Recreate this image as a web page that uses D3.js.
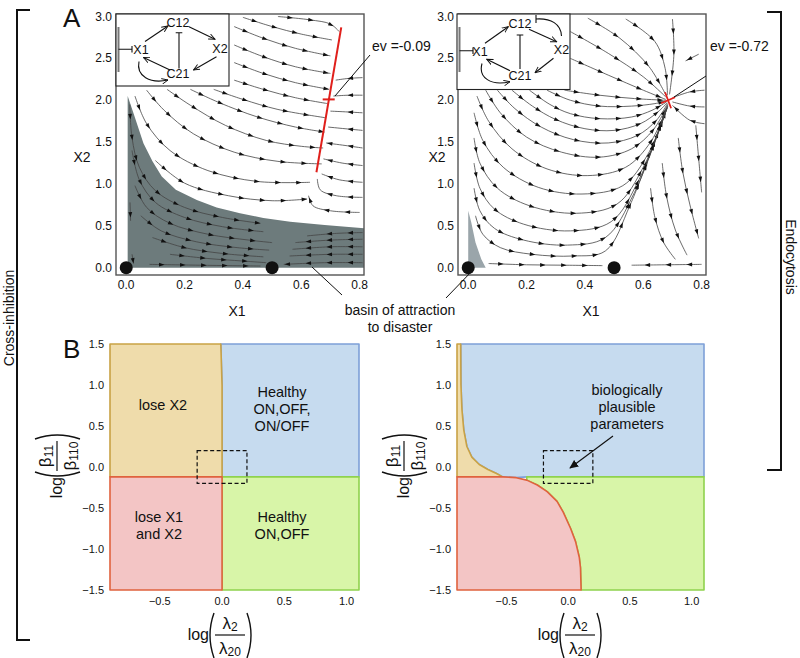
<!DOCTYPE html>
<html><head><meta charset="utf-8">
<script src="https://cdn.jsdelivr.net/npm/d3@7"></script>
<style>body{margin:0;background:#fff}svg{display:block}text{font-family:"Liberation Sans",Arial,sans-serif;fill:#111}</style>
</head><body><svg id="c" width="800" height="658"></svg>
<script>
// ================= DATA =================
const phaseXTicks = [0.0, 0.2, 0.4, 0.6, 0.8];
const phaseYTicks = [0.0, 0.5, 1.0, 1.5, 2.0, 2.5, 3.0];
const diagXTicks = [-0.5, 0.0, 0.5, 1.0];
const diagYTicks = [-1.5, -1.0, -0.5, 0.0, 0.5, 1.0, 1.5];
const fixedPoints = [[0, 0], [0.5, 0]];

// basin of attraction to disaster (grey)
const basinCross = [[0.005,0],[0.005,2.05],[0.025,1.845],[0.059,1.487],[0.09,1.27],[0.122,1.088],[0.17,0.93],[0.242,0.809],[0.31,0.72],[0.39,0.65],[0.47,0.595],[0.562,0.55],[0.68,0.51],[0.815,0.47],[0.815,0]];
const basinEndo = [[0.0,0],[0.0,0.68],[0.01,0.55],[0.025,0.3],[0.045,0.1],[0.06,0]];

// eigen-value markers
const evLineCross = [[0.737, 2.87], [0.652, 1.14]];
const evPointCross = [0.694, 2.01];
const evPointEndo = [0.685, 2.0];

// streamlines, cross-inhibition (points in flow order)
const streamsCross = [
 [[0.40,2.99],[0.50,2.88],[0.60,2.79],[0.705,2.72]],
 [[0.52,3.0],[0.63,2.96],[0.70,2.91],[0.73,2.82]],
 [[0.37,2.88],[0.47,2.74],[0.58,2.62],[0.70,2.53]],
 [[0.37,2.66],[0.47,2.52],[0.58,2.40],[0.70,2.32]],
 [[0.37,2.45],[0.47,2.32],[0.58,2.21],[0.695,2.13]],
 [[0.37,2.24],[0.47,2.13],[0.58,2.03],[0.69,1.96]],
 [[0.30,2.13],[0.40,2.01],[0.52,1.89],[0.685,1.79]],
 [[0.22,2.13],[0.32,1.97],[0.45,1.80],[0.58,1.68],[0.68,1.62]],
 [[0.14,2.13],[0.22,1.94],[0.34,1.70],[0.48,1.52],[0.60,1.45],[0.675,1.43]],
 [[0.07,2.12],[0.13,1.88],[0.23,1.60],[0.37,1.38],[0.52,1.27],[0.67,1.24]],
 [[0.03,2.05],[0.07,1.72],[0.15,1.40],[0.28,1.16],[0.45,1.03],[0.63,1.02]],
 [[0.10,1.28],[0.20,1.01],[0.35,0.86],[0.50,0.80],[0.62,0.82]],
 [[0.81,2.27],[0.76,2.26],[0.718,2.24]],
 [[0.81,2.06],[0.76,2.06],[0.71,2.05]],
 [[0.81,1.85],[0.76,1.86],[0.70,1.87]],
 [[0.81,1.64],[0.75,1.66],[0.692,1.68]],
 [[0.81,1.43],[0.75,1.46],[0.685,1.49]],
 [[0.81,1.22],[0.74,1.25],[0.676,1.30]],
 [[0.81,1.02],[0.73,1.05],[0.67,1.12]],
 [[0.81,0.84],[0.72,0.86],[0.665,0.93],[0.655,1.06]],
 [[0.80,0.66],[0.70,0.68],[0.64,0.74],[0.625,0.86]],
 [[0.012,1.95],[0.02,1.55],[0.045,1.20],[0.10,0.92],[0.20,0.72],[0.33,0.60],[0.46,0.53]],
 [[0.02,1.40],[0.045,1.05],[0.10,0.78],[0.20,0.60],[0.33,0.49],[0.47,0.43]],
 [[0.03,0.98],[0.07,0.72],[0.15,0.53],[0.28,0.40],[0.42,0.33],[0.50,0.30]],
 [[0.05,0.62],[0.12,0.44],[0.24,0.31],[0.38,0.24],[0.49,0.21]],
 [[0.09,0.36],[0.20,0.24],[0.33,0.17],[0.47,0.13]],
 [[0.15,0.16],[0.28,0.11],[0.40,0.08],[0.48,0.06]],
 [[0.08,0.04],[0.25,0.03],[0.46,0.02]],
 [[0.013,0.78],[0.015,0.56]],
 [[0.02,0.16],[0.025,0.05]],
 [[0.81,0.42],[0.72,0.41],[0.62,0.38]],
 [[0.81,0.34],[0.70,0.33],[0.58,0.30]],
 [[0.81,0.25],[0.70,0.25],[0.57,0.22]],
 [[0.81,0.16],[0.70,0.16],[0.56,0.14]],
 [[0.81,0.06],[0.68,0.06],[0.54,0.04]]
];

// streamlines, endocytosis
const streamsEndo = [
 [[0.41,2.98],[0.52,2.74],[0.62,2.40],[0.678,2.06]],
 [[0.54,2.97],[0.64,2.70],[0.675,2.38],[0.683,2.06]],
 [[0.70,2.97],[0.705,2.55],[0.69,2.07]],
 [[0.35,2.82],[0.48,2.56],[0.60,2.28],[0.677,2.04]],
 [[0.35,2.50],[0.48,2.30],[0.60,2.12],[0.677,2.01]],
 [[0.33,2.12],[0.45,2.06],[0.57,2.02],[0.676,2.0]],
 [[0.27,2.12],[0.35,2.0],[0.45,1.93],[0.56,1.93],[0.64,1.96],[0.678,1.99]],
 [[0.21,2.12],[0.28,1.95],[0.35,1.84],[0.45,1.78],[0.56,1.80],[0.63,1.88],[0.68,1.98]],
 [[0.15,2.12],[0.22,1.93],[0.30,1.77],[0.40,1.66],[0.50,1.64],[0.59,1.72],[0.65,1.86],[0.682,1.97]],
 [[0.10,2.12],[0.16,1.90],[0.25,1.68],[0.36,1.53],[0.48,1.49],[0.58,1.58],[0.645,1.76],[0.683,1.96]],
 [[0.06,2.12],[0.11,1.85],[0.20,1.56],[0.32,1.38],[0.45,1.32],[0.56,1.42],[0.635,1.65],[0.684,1.95]],
 [[0.03,2.05],[0.07,1.75],[0.15,1.42],[0.27,1.18],[0.41,1.10],[0.54,1.20],[0.625,1.5],[0.684,1.94]],
 [[0.02,1.85],[0.05,1.52],[0.12,1.20],[0.24,0.96],[0.39,0.88],[0.53,0.98],[0.615,1.35],[0.684,1.93]],
 [[0.02,1.55],[0.04,1.25],[0.10,0.95],[0.21,0.74],[0.37,0.65],[0.51,0.76],[0.60,1.2],[0.683,1.92]],
 [[0.02,1.25],[0.04,0.95],[0.09,0.70],[0.19,0.52],[0.35,0.44],[0.49,0.55],[0.585,1.05],[0.682,1.91]],
 [[0.02,0.95],[0.04,0.68],[0.09,0.47],[0.19,0.33],[0.34,0.27],[0.47,0.36],[0.57,0.9],[0.68,1.9]],
 [[0.025,0.62],[0.05,0.40],[0.11,0.24],[0.22,0.16],[0.36,0.14],[0.47,0.20],[0.555,0.75],[0.678,1.9]],
 [[0.07,0.05],[0.20,0.035],[0.33,0.03],[0.46,0.025]],
 [[0.81,2.12],[0.76,2.10],[0.70,2.03]],
 [[0.81,1.92],[0.76,1.93],[0.70,1.98]],
 [[0.81,1.72],[0.76,1.76],[0.70,1.94]],
 [[0.79,2.55],[0.745,2.47]],
 [[0.78,1.70],[0.79,1.30],[0.80,0.90]],
 [[0.72,1.55],[0.735,1.15],[0.76,0.75],[0.79,0.35]],
 [[0.665,1.25],[0.68,0.85],[0.71,0.45],[0.75,0.15]],
 [[0.625,0.95],[0.64,0.60],[0.67,0.30],[0.71,0.10]],
 [[0.80,0.04],[0.68,0.035],[0.56,0.03]]
];

// phase-diagram regions (panel B)
const loseX2Cross = [[-0.9,1.5],[-0.01,1.5],[0,1.0],[0,-0.12],[-0.9,-0.12]];
const healthyAllCross = [[-0.01,1.5],[1.1,1.5],[1.1,-0.12],[0,-0.12],[0,1.0]];
const loseBothCross = [[-0.9,-0.12],[0,-0.12],[0,-1.5],[-0.9,-1.5]];
const healthyOnOffCross = [[0,-0.12],[1.1,-0.12],[1.1,-1.5],[0,-1.5]];
const tanCurveEndo = [[-0.87,1.5],[-0.868,1.0],[-0.86,0.7],[-0.845,0.45],[-0.82,0.25],[-0.78,0.12],[-0.72,0.03],[-0.65,-0.03],[-0.58,-0.08],[-0.53,-0.12]];
const redCurveEndo = [[-0.53,-0.12],[-0.42,-0.13],[-0.335,-0.16],[-0.25,-0.22],[-0.17,-0.30],[-0.09,-0.42],[-0.04,-0.55],[0.02,-0.75],[0.06,-0.91],[0.09,-1.1],[0.10,-1.23],[0.105,-1.5]];
const plausibleBox = [[-0.2,-0.2],[0.2,0.2]];

// ================= DRAWING =================
const svg = d3.select('#c');
const fmt = d => d3.format('.1f')(d).replace('-', '\u2212');

// ---- panel A ----
function phasePanel(x0, streams, basin, basinColor, id) {
  const x = d3.scaleLinear().domain([-0.035, 0.815]).range([x0, x0 + 248]);
  const y = d3.scaleLinear().domain([-0.087, 3.03]).range([275, 14]);
  const g = svg.append('g');
  svg.append('clipPath').attr('id', id).append('rect')
     .attr('x', x0).attr('y', 14).attr('width', 248).attr('height', 261);
  const cg = g.append('g').attr('clip-path', `url(#${id})`);
  cg.append('path').datum(basin)
    .attr('d', d3.line().x(d => x(d[0])).y(d => y(d[1])).curve(d3.curveLinearClosed))
    .attr('fill', basinColor);
  const line = d3.line().x(d => x(d[0])).y(d => y(d[1])).curve(d3.curveCatmullRom.alpha(0.5));
  streams.forEach(s => {
    const p = cg.append('path').attr('d', line(s)).attr('fill', 'none')
      .attr('stroke', '#444').attr('stroke-width', 0.8);
    const node = p.node(), L = node.getTotalLength();
    const pos = [];
    if (L < 22) pos.push(L / 2 + 3);
    else for (let l = 12; l < L - 2; l += 21) pos.push(l);
    pos.forEach(l => {
      const a = node.getPointAtLength(Math.max(0, l - 4)), b = node.getPointAtLength(Math.min(L, l + 3));
      const dx = b.x - a.x, dy = b.y - a.y, n = Math.hypot(dx, dy) || 1, ux = dx / n, uy = dy / n;
      const bx = b.x - ux * 5.5, by = b.y - uy * 5.5;
      cg.append('path').attr('d', `M${b.x},${b.y}L${bx - uy * 1.9},${by + ux * 1.9}L${bx + uy * 1.9},${by - ux * 1.9}Z`)
        .attr('fill', '#111');
    });
  });
  g.append('rect').attr('x', x0).attr('y', 14).attr('width', 248).attr('height', 261)
   .attr('fill', 'none').attr('stroke', '#555').attr('stroke-width', 1.4);
  g.selectAll('circle.fp').data(fixedPoints).join('circle')
   .attr('cx', d => x(d[0])).attr('cy', d => y(d[1])).attr('r', 6.5).attr('fill', '#111');
  g.selectAll('text.xt').data(phaseXTicks).join('text')
   .attr('x', d => x(d)).attr('y', 289).attr('text-anchor', 'middle').attr('font-size', 12).text(d => d.toFixed(1));
  g.selectAll('text.yt').data(phaseYTicks).join('text')
   .attr('x', x0 - 4).attr('y', d => y(d) + 4).attr('text-anchor', 'end').attr('font-size', 12).text(d => d.toFixed(1));
  return {x, y, g};
}

const A1 = phasePanel(116, streamsCross, basinCross, '#6d7b7c', 'clipA1');
const A2 = phasePanel(458, streamsEndo, basinEndo, '#9aa5aa', 'clipA2');

A1.g.append('line').attr('x1', A1.x(evLineCross[0][0])).attr('y1', A1.y(evLineCross[0][1]))
  .attr('x2', A1.x(evLineCross[1][0])).attr('y2', A1.y(evLineCross[1][1]))
  .attr('stroke', '#e0201c').attr('stroke-width', 2);
A1.g.append('line').attr('x1', A1.x(evPointCross[0]) - 6).attr('x2', A1.x(evPointCross[0]) + 6)
  .attr('y1', A1.y(evPointCross[1])).attr('y2', A1.y(evPointCross[1]))
  .attr('stroke', '#e0201c').attr('stroke-width', 2);
{
  const cx = A2.x(evPointEndo[0]), cy = A2.y(evPointEndo[1]);
  A2.g.append('path').attr('d', `M${cx-3},${cy-8}L${cx+3},${cy+8}M${cx-7},${cy+3}L${cx+7},${cy-3}`)
    .attr('stroke', '#e0201c').attr('stroke-width', 1.8).attr('fill', 'none');
}

// inset network diagrams
svg.append('defs').append('marker').attr('id', 'arr').attr('viewBox', '0 -5 10 10')
  .attr('refX', 9).attr('refY', 0).attr('markerWidth', 7).attr('markerHeight', 7)
  .attr('markerUnits', 'userSpaceOnUse').attr('orient', 'auto')
  .append('path').attr('d', 'M0,-4L9,0L0,4').attr('fill', 'none').attr('stroke', '#111').attr('stroke-width', 1.3);

function inset(ox, w, h, nodes, arrows, inhib, extraInh) {
  const g = svg.append('g').attr('transform', `translate(${ox},14)`);
  g.append('rect').attr('width', w).attr('height', h).attr('fill', '#fff').attr('stroke', '#222').attr('stroke-width', 1.1);
  g.append('line').attr('x1', 2.5).attr('x2', 2.5).attr('y1', 13).attr('y2', 58).attr('stroke', '#777').attr('stroke-width', 2);
  nodes.forEach(n => g.append('text').attr('x', n[1]).attr('y', n[2] + 4.3).attr('text-anchor', 'middle')
    .attr('font-size', 12.5).text(n[0]));
  arrows.forEach(a => g.append('path').attr('d', a).attr('fill', 'none').attr('stroke', '#111')
    .attr('stroke-width', 1.1).attr('marker-end', 'url(#arr)'));
  inhib.forEach(a => g.append('path').attr('d', a).attr('fill', 'none').attr('stroke', '#111').attr('stroke-width', 1.1));
  if (extraInh) g.append('path').attr('d', extraInh).attr('fill', 'none').attr('stroke', '#111').attr('stroke-width', 1.1);
}
inset(116, 113, 72,
  [['C12', 62, 9], ['X1', 25, 35.3], ['X2', 104, 34.3], ['C21', 62, 60]],
  ['M29,27.5L52,12', 'M73,12.7L99,25.3', 'M100.5,42.7L77.5,56', 'M54,56L27.5,43.5', 'M23,47.5C20,62 34,70 52,66'],
  ['M2.5,35.3L16,35.3M16,32L16,38.6', 'M63,54.5L63,18.7M59.7,18.7L66.3,18.7']);
inset(457, 113, 75.5,
  [['C12', 63, 10], ['X1', 23, 37.7], ['X2', 104.5, 36], ['C21', 63, 62]],
  ['M28,29.3L51.3,12.7', 'M72,15.3L99.7,27.7', 'M96.5,44.3L78,58.7', 'M53,56.7L29.7,45.3', 'M25,49.5C21,64 34,72 53,67.7'],
  ['M2.5,36.7L16,36.7M16,33.4L16,40', 'M63,55L63,21M59.7,21L66.3,21'],
  'M104.5,22C104,10 94,4 79,5M79,1L79,9');

const lab = (x, y, t, s, anchor) => svg.append('text').attr('x', x).attr('y', y).attr('font-size', s)
  .attr('text-anchor', anchor || 'middle').text(t);
lab(82, 162, 'X2', 14); lab(437, 162, 'X2', 14);
lab(237, 316, 'X1', 14); lab(591, 316, 'X1', 14);
lab(63, 27, 'A', 26, 'start'); lab(63, 358, 'B', 26, 'start');
lab(372, 51, 'ev =-0.09', 14, 'start'); lab(710, 51, 'ev =-0.72', 14, 'start');
lab(400, 315, 'basin of attraction', 14); lab(400, 332, 'to disaster', 14);
svg.append('path').attr('d', 'M370,55L335,96M706,76L674,97M312,267L342,295M473,270L446,298')
  .attr('stroke', '#111').attr('stroke-width', 1).attr('fill', 'none');

// brackets
svg.append('path').attr('d', 'M30,10L17,10L17,640L30,640').attr('fill', 'none').attr('stroke', '#111').attr('stroke-width', 2);
svg.append('path').attr('d', 'M767,12L781,12L781,470L767,470').attr('fill', 'none').attr('stroke', '#111').attr('stroke-width', 2);
svg.append('text').attr('transform', 'translate(14,318) rotate(-90)').attr('text-anchor', 'middle').attr('font-size', 14).text('Cross-inhibition');
svg.append('text').attr('transform', 'translate(786,257) rotate(90)').attr('text-anchor', 'middle').attr('font-size', 14).text('Endocytosis');

// ---- panel B ----
function diagPanel(x0, x1, regions) {
  const x = d3.scaleLinear().domain([-0.9, 1.1]).range([x0, x1]);
  const y = d3.scaleLinear().domain([-1.5, 1.5]).range([590, 344]);
  const g = svg.append('g');
  const line = d3.line().x(d => x(d[0])).y(d => y(d[1])).curve(d3.curveLinearClosed);
  regions.forEach(r => g.append('path').datum(r.pts).attr('d', line)
    .attr('fill', r.fill).attr('stroke', r.stroke).attr('stroke-width', 1.6).attr('stroke-linejoin', 'round'));
  g.append('rect').attr('x', x(plausibleBox[0][0])).attr('y', y(plausibleBox[1][1]))
   .attr('width', x(plausibleBox[1][0]) - x(plausibleBox[0][0])).attr('height', y(plausibleBox[0][1]) - y(plausibleBox[1][1]))
   .attr('fill', 'none').attr('stroke', '#111').attr('stroke-width', 1.2).attr('stroke-dasharray', '4,2.5');
  g.selectAll('text.xt').data(diagXTicks).join('text').attr('x', d => x(d)).attr('y', 605)
   .attr('text-anchor', 'middle').attr('font-size', 11).text(fmt);
  g.selectAll('text.yt').data(diagYTicks).join('text').attr('x', x0 - 6).attr('y', d => y(d) + 4)
   .attr('text-anchor', 'end').attr('font-size', 11).text(fmt);
  return {x, y, g};
}
const C = {tan: ['#efdcab', '#c9a245'], blue: ['#c6dbef', '#7ea0d8'], green: ['#d8f5a8', '#8fd24e'], red: ['#f3c5c5', '#e0623e']};
diagPanel(110, 359, [
  {pts: healthyAllCross, fill: C.blue[0], stroke: C.blue[1]},
  {pts: healthyOnOffCross, fill: C.green[0], stroke: C.green[1]},
  {pts: loseX2Cross, fill: C.tan[0], stroke: C.tan[1]},
  {pts: loseBothCross, fill: C.red[0], stroke: C.red[1]}
]);
const iSplit = redCurveEndo.findIndex(p => p[0] >= -0.335);
const blueEndo = [[-0.87,1.5],[1.1,1.5],[1.1,-0.12],[-0.335,-0.12]]
  .concat(redCurveEndo.slice(0, iSplit + 1).reverse().slice(1))
  .concat(tanCurveEndo.slice().reverse().slice(1));
const tanEndo = [[-0.9,1.5]].concat(tanCurveEndo).concat([[-0.9,-0.12]]);
const greenEndo = [[-0.335,-0.12],[1.1,-0.12],[1.1,-1.5]].concat(redCurveEndo.slice(iSplit).reverse());
const redEndo = [[-0.9,-0.12]].concat(redCurveEndo).concat([[-0.9,-1.5]]);
diagPanel(457, 704, [
  {pts: blueEndo, fill: C.blue[0], stroke: C.blue[1]},
  {pts: greenEndo, fill: C.green[0], stroke: C.green[1]},
  {pts: tanEndo, fill: C.tan[0], stroke: C.tan[1]},
  {pts: redEndo, fill: C.red[0], stroke: C.red[1]}
]);

const ml = (x, ys, lines) => lines.forEach((t, i) => lab(x, ys + i * 17, t, 14.5));
ml(163, 410, ['lose X2']);
ml(282, 397, ['Healthy', 'ON,OFF,', 'ON/OFF']);
ml(159, 522, ['lose X1', 'and X2']);
ml(282, 522, ['Healthy', 'ON,OFF']);
ml(627, 395, ['biologically', 'plausible', 'parameters']);
svg.append('defs').append('marker').attr('id', 'arr2').attr('viewBox', '0 -5 10 10').attr('refX', 9).attr('refY', 0)
  .attr('markerWidth', 9).attr('markerHeight', 9).attr('markerUnits', 'userSpaceOnUse').attr('orient', 'auto')
  .append('path').attr('d', 'M0,-4.5L10,0L0,4.5Z').attr('fill', '#111');
svg.append('path').attr('d', 'M613,436L570,468').attr('stroke', '#111').attr('stroke-width', 1.1).attr('marker-end', 'url(#arr2)');

function fracLabel(tx, ty, rot, num, numSub, den, denSub) {
  const g = svg.append('g').attr('transform', `translate(${tx},${ty}) rotate(${rot})`);
  g.append('text').attr('x', -21).attr('y', 5).attr('text-anchor', 'end').attr('font-size', 16).text('log');
  const t1 = g.append('text').attr('x', 0).attr('y', -6).attr('text-anchor', 'middle').attr('font-size', 17);
  t1.append('tspan').text(num); t1.append('tspan').attr('font-size', 12).attr('dy', 2).text(numSub);
  const t2 = g.append('text').attr('x', 0).attr('y', 19).attr('text-anchor', 'middle').attr('font-size', 17);
  t2.append('tspan').text(den); t2.append('tspan').attr('font-size', 12).attr('dy', 2).text(denSub);
  g.append('line').attr('x1', -15).attr('x2', 15).attr('y1', 0).attr('y2', 0).attr('stroke', '#111').attr('stroke-width', 1.2);
  g.append('path').attr('d', 'M-16,-22Q-24,0 -16,23M17,-22Q25,0 17,23').attr('fill', 'none').attr('stroke', '#111').attr('stroke-width', 1.4);
}
fracLabel(230, 635, 0, '\u03bb', '2', '\u03bb', '20');
fracLabel(580, 635, 0, '\u03bb', '2', '\u03bb', '20');
fracLabel(57, 456, -90, '\u03b2', '11', '\u03b2', '110');
fracLabel(404, 456, -90, '\u03b2', '11', '\u03b2', '110');
</script></body></html>
